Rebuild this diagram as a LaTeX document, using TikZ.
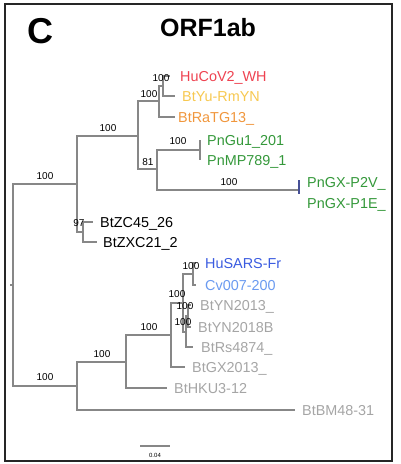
\documentclass[tikz,border=0pt]{standalone}
\usepackage{fontspec}
\setmainfont{Liberation Sans}
\usepackage{xcolor}
\definecolor{treegrey}{RGB}{135,135,135}
\definecolor{leafgrey}{RGB}{165,165,165}
\definecolor{hured}{RGB}{238,66,80}
\definecolor{yuyellow}{RGB}{247,200,80}
\definecolor{ratgorange}{RGB}{240,150,60}
\definecolor{pngreen}{RGB}{52,152,58}
\definecolor{sarsblue}{RGB}{58,91,224}
\definecolor{civetblue}{RGB}{106,154,240}
\definecolor{gxnavy}{RGB}{70,80,150}
\begin{document}
\begin{tikzpicture}[x=1pt,y=-1pt,
    treeline/.style={draw=treegrey,line width=1.1pt},
    leaf/.style={anchor=base west,inner sep=0pt,font=\fontsize{14.4}{16}\selectfont},
    boot/.style={anchor=base,inner sep=0pt,font=\fontsize{10}{12}\selectfont}]
  \useasboundingbox (0,0) rectangle (400,464);
  \draw[line width=1.6pt,black!85] (5,4) rectangle (392,461);
  \node[anchor=base west,inner sep=0pt,font=\fontsize{36}{40}\selectfont\bfseries] (panel) at (27,43) {C};
  \node[anchor=base,inner sep=0pt,font=\fontsize{25}{28}\selectfont\bfseries] (title) at (208,36) {ORF1ab};
  % internal nodes
  \coordinate (root) at (13,285);
  \coordinate (stub) at (10,285);
  \coordinate (up) at (77,184);
  \coordinate (low) at (77,386);
  \coordinate (sc) at (138,136);
  \coordinate (zc) at (83,232);
  \coordinate (sc2) at (159,101);
  \coordinate (hu) at (163,86);
  \coordinate (pn) at (157,169);
  \coordinate (gd) at (200,150);
  \coordinate (gx) at (299,190);
  \coordinate (gxtop) at (299,180);
  \coordinate (gxbot) at (299,194);
  \coordinate (hk) at (126,362);
  \coordinate (sr) at (171,335);
  \coordinate (sr1) at (183,303);
  \coordinate (sars) at (193,274);
  \coordinate (rs) at (186,332);
  \coordinate (yn) at (188,316);
  % leaf ends
  \coordinate (hucovend) at (170,76);
  \coordinate (btyuend) at (175,96);
  \coordinate (ratgend) at (175,117);
  \coordinate (pnguend) at (200,140);
  \coordinate (pnmpend) at (200,160);
  \coordinate (zc45end) at (93,222);
  \coordinate (zxc21end) at (97,242);
  \coordinate (bm48end) at (295,410);
  \coordinate (hku3end) at (167,388);
  \coordinate (gxend) at (185,367);
  \coordinate (husarsend) at (196,263);
  \coordinate (cv007end) at (196,285);
  \coordinate (rs4874end) at (193,347);
  \coordinate (yn13end) at (191,305);
  \coordinate (yn18end) at (191,327);
  % branches
  \draw[treeline] (root) -- (stub);
  \draw[treeline] (root) |- (up) (root) |- (low);
  \draw[treeline] (up) |- (sc) (up) |- (zc);
  \draw[treeline] (sc) |- (sc2) (sc) |- (pn);
  \draw[treeline] (sc2) |- (hu) (sc2) |- (ratgend);
  \draw[treeline] (hu) |- (hucovend) (hu) |- (btyuend);
  \draw[treeline] (pn) |- (gd) (pn) |- (gx);
  \draw[treeline] (gd) |- (pnguend) (gd) |- (pnmpend);
  \draw[treeline] (zc) |- (zc45end) (zc) |- (zxc21end);
  \draw[treeline] (low) |- (hk) (low) |- (bm48end);
  \draw[treeline] (hk) |- (sr) (hk) |- (hku3end);
  \draw[treeline] (sr) |- (sr1) (sr) |- (gxend);
  \draw[treeline] (sr1) |- (sars) (sr1) |- (rs);
  \draw[treeline] (sars) |- (husarsend) (sars) |- (cv007end);
  \draw[treeline] (rs) |- (yn) (rs) |- (rs4874end);
  \draw[treeline] (yn) |- (yn13end) (yn) |- (yn18end);
  \draw[line width=1.3pt,gxnavy] (gxtop) -- (gxbot);
  % taxa
  \node[leaf,text=hured] (hucov) at (180,81) {HuCoV2\_WH};
  \node[leaf,text=yuyellow] (btyu) at (182,101) {BtYu-RmYN};
  \node[leaf,text=ratgorange] (ratg) at (178,122) {BtRaTG13\_};
  \node[leaf,text=pngreen] (pngu) at (207,145) {PnGu1\_201};
  \node[leaf,text=pngreen] (pnmp) at (207,165) {PnMP789\_1};
  \node[leaf,text=pngreen] (pngxa) at (307,187) {PnGX-P2V\_};
  \node[leaf,text=pngreen] (pngxb) at (307,208) {PnGX-P1E\_};
  \node[leaf] (zc45) at (100,227) {BtZC45\_26};
  \node[leaf] (zxc21) at (103,247) {BtZXC21\_2};
  \node[leaf,text=sarsblue] (husars) at (205,268) {HuSARS-Fr};
  \node[leaf,text=civetblue] (cv007) at (205,290) {Cv007-200};
  \node[leaf,text=leafgrey] (yn13) at (200,310) {BtYN2013\_};
  \node[leaf,text=leafgrey] (yn18) at (198,332) {BtYN2018B};
  \node[leaf,text=leafgrey] (rs4874) at (201,352) {BtRs4874\_};
  \node[leaf,text=leafgrey] (gx13) at (192,372) {BtGX2013\_};
  \node[leaf,text=leafgrey] (hku3) at (174,393) {BtHKU3-12};
  \node[leaf,text=leafgrey] (bm48) at (302,415) {BtBM48-31};
  % support values
  \node[boot] (bsup) at (45,179) {100};
  \node[boot] (bslow) at (45,380) {100};
  \node[boot] (bssc) at (108,131) {100};
  \node[boot] (bssc2) at (149,97) {100};
  \node[boot] (bshu) at (161,81) {100};
  \node[boot] (bsgd) at (178,144) {100};
  \node[boot] (bspn) at (148,165) {81};
  \node[boot] (bsgx) at (229,185) {100};
  \node[boot] (bszc) at (79,226) {97};
  \node[boot] (bssars) at (191,269) {100};
  \node[boot] (bssr1) at (177,297) {100};
  \node[boot] (bsyn) at (185,309) {100};
  \node[boot] (bsrs) at (183,325) {100};
  \node[boot] (bssr) at (149,330) {100};
  \node[boot] (bshk) at (102,357) {100};
  % scale bar
  \coordinate (sbl) at (140,446);
  \coordinate (sbr) at (170,446);
  \draw[treeline] (sbl) -- (sbr);
  \node[boot,font=\fontsize{6}{7}\selectfont] (scale) at (155,457) {0.04};
\end{tikzpicture}
\end{document}
